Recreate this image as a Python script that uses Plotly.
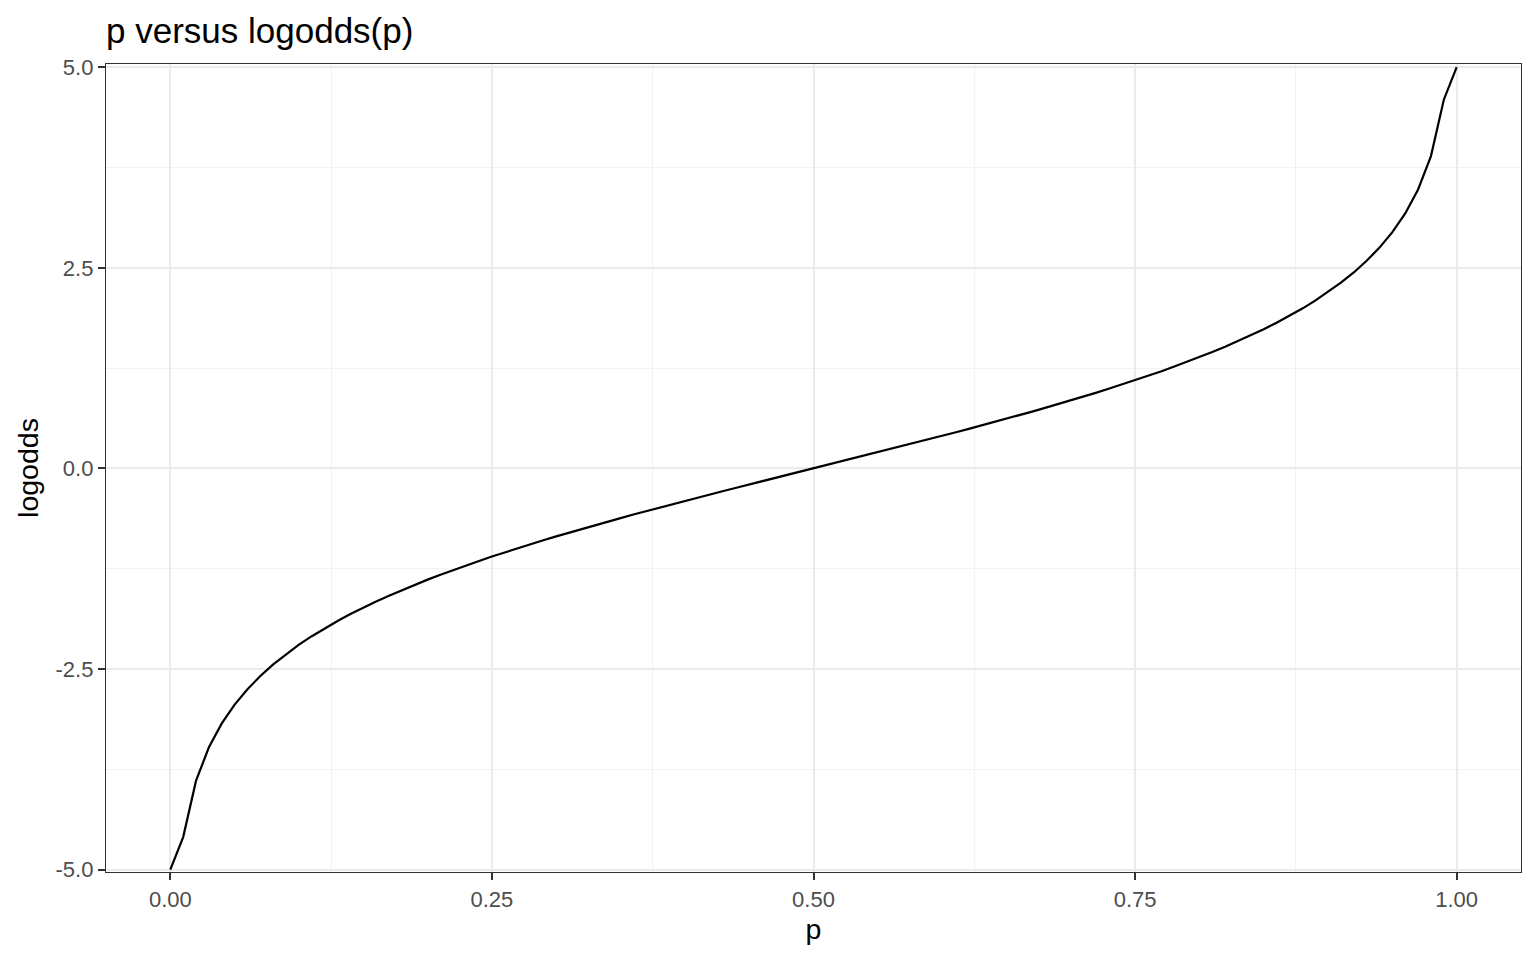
import plotly.graph_objects as go

p_values = [round(k / 100, 2) for k in range(101)]
logodds_neg = [-5.0, -4.595, -3.892, -3.476, -3.178, -2.944, -2.752, -2.587, -2.442, -2.314,
               -2.197, -2.091, -1.992, -1.901, -1.815, -1.735, -1.658, -1.586, -1.516, -1.450,
               -1.386, -1.325, -1.266, -1.208, -1.153, -1.099, -1.046, -0.995, -0.944, -0.895,
               -0.847, -0.800, -0.754, -0.708, -0.663, -0.619, -0.575, -0.532, -0.490, -0.447,
               -0.405, -0.364, -0.323, -0.282, -0.241, -0.201, -0.160, -0.120, -0.080, -0.040]
logodds_mid = [0.0]
logodds_pos = [0.040, 0.080, 0.120, 0.160, 0.201, 0.241, 0.282, 0.323, 0.364, 0.405,
               0.447, 0.490, 0.532, 0.575, 0.619, 0.663, 0.708, 0.754, 0.800, 0.847,
               0.895, 0.944, 0.995, 1.046, 1.099, 1.153, 1.208, 1.266, 1.325, 1.386,
               1.450, 1.516, 1.586, 1.658, 1.735, 1.815, 1.901, 1.992, 2.091, 2.197,
               2.314, 2.442, 2.587, 2.752, 2.944, 3.178, 3.476, 3.892, 4.595, 5.0]
logodds = logodds_neg + logodds_mid + logodds_pos

x_ticks = [0.0, 0.25, 0.5, 0.75, 1.0]
x_tick_labels = ["0.00", "0.25", "0.50", "0.75", "1.00"]
y_ticks = [-5.0, -2.5, 0.0, 2.5, 5.0]
y_tick_labels = ["-5.0", "-2.5", "0.0", "2.5", "5.0"]

FONT = "Liberation Sans, Arial, sans-serif"

fig = go.Figure()
fig.add_trace(go.Scatter(x=p_values, y=logodds, mode="lines",
                         line=dict(color="black", width=2.2), showlegend=False,
                         cliponaxis=True))

axis_common = dict(
    showgrid=True, gridcolor="#ebebeb", gridwidth=2,
    zeroline=False,
    showline=True, linecolor="#333333", linewidth=1.3, mirror=True,
    ticks="outside", ticklen=7, tickwidth=2, tickcolor="#333333",
    tickfont=dict(family=FONT, size=22, color="#4d4d4d"),
    title_font=dict(family=FONT, size=28.5, color="black"),
)

fig.update_xaxes(
    range=[-0.05, 1.05], tickvals=x_ticks, ticktext=x_tick_labels,
    title_text="p", title_standoff=8,
    minor=dict(tickvals=[0.125, 0.375, 0.625, 0.875], showgrid=True,
               gridcolor="#f2f2f2", gridwidth=1, ticks=""),
    **axis_common,
)
fig.update_yaxes(
    range=[-5.03, 5.04], tickvals=y_ticks, ticktext=y_tick_labels,
    title_text="logodds", title_standoff=8,
    minor=dict(tickvals=[-3.75, -1.25, 1.25, 3.75], showgrid=True,
               gridcolor="#f2f2f2", gridwidth=1, ticks=""),
    **axis_common,
)

fig.update_layout(
    width=1536, height=960,
    margin=dict(l=106, r=15, t=64, b=88, autoexpand=False),
    plot_bgcolor="white", paper_bgcolor="white",
    title=dict(text="p versus logodds(p)", x=106 / 1536, xanchor="left", xref="container",
               y=1 - 31 / 960, yanchor="middle", yref="container",
               font=dict(family=FONT, size=35, color="black")),
)

fig.write_html("out.html", config={"displayModeBar": False},
               post_script="document.body.style.margin='0';")
